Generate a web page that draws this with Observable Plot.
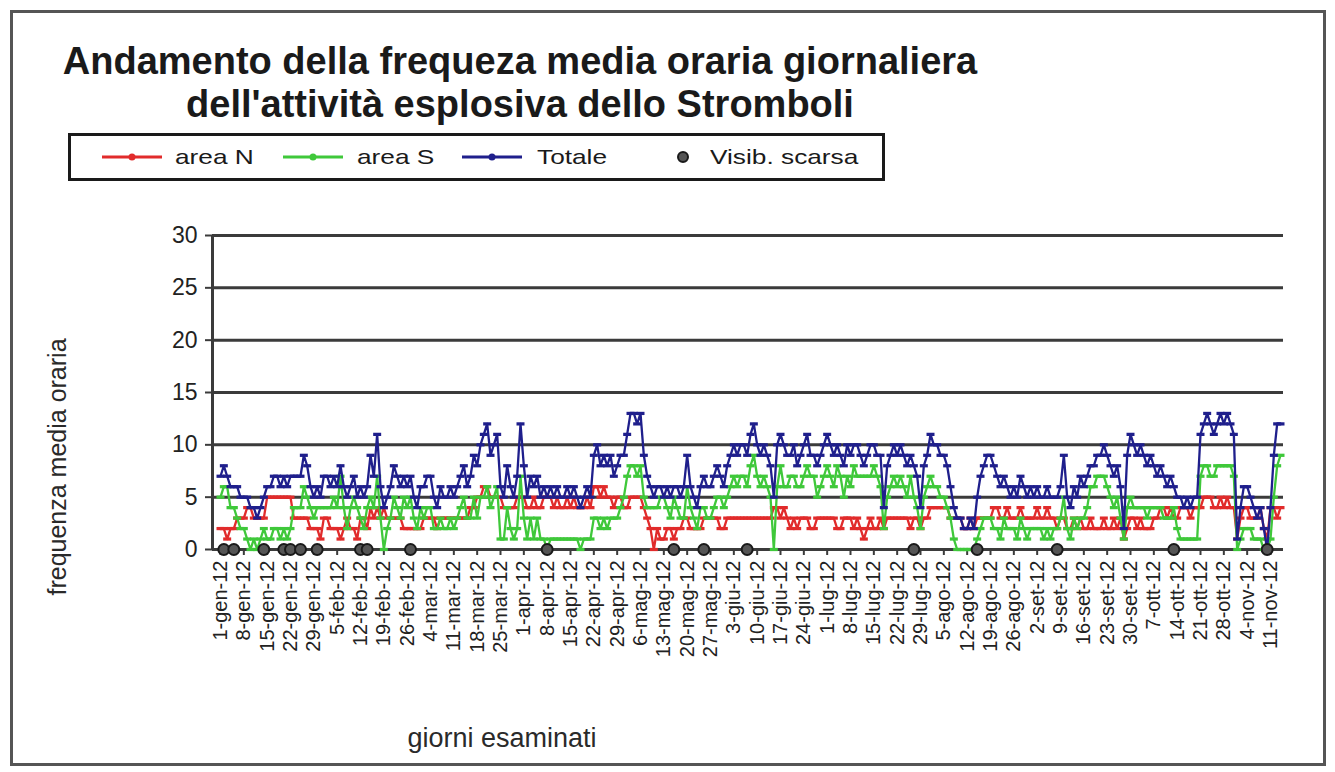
<!DOCTYPE html>
<html lang="it"><head><meta charset="utf-8">
<script src="https://cdn.jsdelivr.net/npm/d3@7"></script>
<script src="https://cdn.jsdelivr.net/npm/@observablehq/plot@0.6"></script>
<style>
html,body{margin:0;padding:0;background:#fff;}
#page{position:relative;width:1335px;height:772px;overflow:hidden;font-family:"Liberation Sans",Arial,Helvetica,sans-serif;color:#1a1a1a;}
#frame{position:absolute;left:10px;top:10px;width:1310px;height:750px;border:3px solid #555;}
.title{position:absolute;left:0;width:1040px;text-align:center;font-weight:bold;font-size:38px;line-height:1;white-space:nowrap;}
#title1{top:42px}
#title2{top:85px}
#legend{position:absolute;left:68px;top:133px;width:817px;height:48px;box-sizing:border-box;border:3px solid #1a1a1a;}
.sw{position:absolute;top:12px;}
.lt{position:absolute;top:0;line-height:42px;font-size:21px;white-space:nowrap;transform:scaleX(1.25);transform-origin:0 50%;}
#ytitle{position:absolute;left:57px;top:467px;transform:translate(-50%,-50%) rotate(-90deg);font-size:25px;white-space:nowrap;color:#2a2a2a;}
#xtitle{position:absolute;left:502px;top:738px;transform:translate(-50%,-50%);font-size:27px;white-space:nowrap;color:#2a2a2a;}
#chart{position:absolute;left:0;top:200px;}
#chart svg{overflow:visible;}
</style></head>
<body>
<div id="page">
  <div id="frame"></div>
  <div class="title" id="title1">Andamento della frequeza media oraria giornaliera</div>
  <div class="title" id="title2">dell'attività esplosiva dello Stromboli</div>
  <div id="legend"></div>
  <div id="ytitle">frequenza media oraria</div>
  <div id="xtitle">giorni esaminati</div>
  <div id="chart"></div>
</div>
<script>
// ---- data ----
const xTickLabels = ["1-gen-12","8-gen-12","15-gen-12","22-gen-12","29-gen-12","5-feb-12","12-feb-12","19-feb-12","26-feb-12",
  "4-mar-12","11-mar-12","18-mar-12","25-mar-12","1-apr-12","8-apr-12","15-apr-12","22-apr-12","29-apr-12",
  "6-mag-12","13-mag-12","20-mag-12","27-mag-12","3-giu-12","10-giu-12","17-giu-12","24-giu-12",
  "1-lug-12","8-lug-12","15-lug-12","22-lug-12","29-lug-12","5-ago-12","12-ago-12","19-ago-12","26-ago-12",
  "2-set-12","9-set-12","16-set-12","23-set-12","30-set-12","7-ott-12","14-ott-12","21-ott-12","28-ott-12",
  "4-nov-12","11-nov-12"];
const yTicks = [0,5,10,15,20,25,30];

// daily values from 1-gen-12, one row per week
const areaN = [
  2,2,1,2,2,3,3, 3,4,4,3,3,3,3, 5,5,5,5,5,5,5, 5,3,3,3,3,3,2, 2,2,1,3,3,2,2,
  2,1,2,3,2,2,1, 3,3,2,4,3,4,3, 4,3,3,3,3,3,2, 2,2,2,2,2,3,3, 3,3,2,3,3,3,3,
  3,3,3,3,3,4,4, 5,5,6,6,5,5,5, 5,4,4,4,4,5,5, 5,4,4,5,4,4,5, 5,5,4,5,4,4,5,
  4,5,4,4,4,5,4, 6,6,5,6,5,5,4, 5,5,4,4,5,5,5, 5,4,3,2,0,2,1, 1,2,2,1,2,2,3,
  3,2,2,2,2,3,3, 3,3,3,2,2,3,3, 3,3,3,3,3,3,3, 3,3,3,3,3,4,4, 3,4,3,2,3,2,3,
  3,3,2,2,3,3,3, 3,3,3,2,2,3,3, 3,2,3,2,1,2,3, 2,2,3,2,3,3,3, 3,3,3,3,2,3,3,
  2,3,3,4,4,4,4, 4,4,3,3,3,3,2, 2,3,2,3,3,3,3, 3,4,4,3,3,4,3, 3,3,4,3,3,3,3,
  4,3,3,4,3,3,2, 3,3,2,2,3,2,3, 2,2,3,2,2,2,3, 2,2,3,2,3,1,2, 3,3,2,3,2,2,2,
  3,3,4,4,3,4,3, 3,4,4,4,3,4,4, 4,5,5,5,4,4,5, 4,5,4,4,1,3,4, 4,3,3,3,4,2,1,
  4,4,3,4
];
const areaS = [
  5,6,6,4,4,3,2, 2,1,0,1,0,1,2, 1,1,2,2,1,2,1, 2,4,4,4,6,5,4, 3,4,4,4,4,4,5,
  4,7,4,2,4,5,4, 3,2,4,5,4,7,3, 0,2,3,5,4,3,5, 4,5,3,2,4,3,4, 4,2,2,3,2,2,3,
  2,3,4,5,3,3,5, 3,5,5,6,4,5,6, 1,1,4,2,1,2,7, 3,1,3,1,3,1,1, 0,1,1,1,1,1,1,
  1,1,1,0,1,1,1, 3,3,2,3,2,3,3, 3,4,5,7,8,8,7, 8,5,4,4,4,4,5, 5,4,3,5,4,3,3,
  6,4,3,2,4,4,3, 3,4,5,5,4,5,6, 7,6,7,7,6,8,9, 7,6,7,6,5,0,6, 8,6,6,7,7,6,6,
  7,8,7,7,5,6,7, 8,7,6,8,7,5,7, 6,8,7,7,7,7,7, 8,7,6,2,5,6,7, 6,7,6,5,7,5,4,
  2,5,6,7,6,6,5, 5,4,3,1,0,0,0, 0,0,0,1,2,3,3, 3,2,2,1,3,2,2, 2,1,3,2,1,2,2,
  2,2,1,2,1,2,2, 3,5,2,1,3,2,3, 3,4,6,6,7,7,7, 6,5,4,5,3,1,4, 5,4,4,4,4,3,4,
  4,4,4,3,3,3,4, 2,1,1,1,1,1,1, 7,8,8,7,7,8,8, 8,8,8,7,0,1,2, 2,2,1,1,1,0,0,
  1,5,8,9
];
const totale = [
  7,8,7,6,6,6,5, 5,5,4,4,3,4,5, 6,6,7,7,6,7,6, 7,7,7,7,9,8,6, 5,6,5,7,7,6,7,
  6,8,6,5,6,7,5, 6,5,6,9,7,11,6, 4,5,6,8,7,6,7, 6,7,5,4,6,6,7, 7,5,4,6,5,5,6,
  5,6,7,8,6,7,9, 8,10,11,12,9,10,11, 6,5,8,6,5,7,12, 8,5,7,6,7,5,6, 5,6,5,6,5,5,6,
  5,6,5,4,5,6,5, 9,10,8,9,8,9,7, 8,9,9,11,13,13,12, 13,9,7,6,5,6,6, 5,6,5,6,6,5,6,
  9,6,5,4,6,7,6, 6,7,8,7,6,8,9, 10,9,10,10,9,11,12, 10,9,10,9,8,5,10, 11,10,9,9,10,8,9,
  10,11,9,9,8,9,10, 11,10,9,10,9,8,10, 9,10,10,9,8,9,10, 10,9,9,4,8,9,10, 9,10,9,8,9,8,7,
  4,8,9,11,10,10,9, 9,8,6,4,3,3,2, 2,3,2,5,7,8,9, 9,8,7,6,7,6,5, 6,5,7,6,5,6,5,
  6,5,5,6,5,5,5, 6,9,5,4,6,5,7, 6,7,8,8,9,9,10, 9,8,7,8,6,2,9, 11,10,9,10,9,8,9,
  8,7,8,7,6,7,6, 5,5,4,5,4,5,5, 11,12,13,12,11,12,13, 12,13,12,11,1,4,6, 6,5,4,3,4,2,0,
  4,9,12,12
];
// days with poor visibility (plotted at 0)
const visibScarsa = ["2012-01-02","2012-01-05","2012-01-14","2012-01-20","2012-01-22","2012-01-25","2012-01-30",
  "2012-02-12","2012-02-14","2012-02-27","2012-04-08","2012-05-16","2012-05-25","2012-06-07",
  "2012-07-27","2012-08-15","2012-09-08","2012-10-13","2012-11-10"];

const seriesNames = ["area N","area S","Totale"];
const seriesColors = ["#e12b2b","#3fc83a","#1f1f8c"];
const visibColor = "#1a1a1a";

// ---- build ----
const DAY = 864e5;
const t0 = Date.UTC(2012,0,1);
const dateOf = i => new Date(Date.UTC(2012,0,1+i));
const tickDates = xTickLabels.map((_, i) => dateOf(7*i));
const labelByTime = new Map(tickDates.map((d, i) => [+d, xTickLabels[i]]));
const seriesValues = [areaN, areaS, totale];

const dash = {draw(ctx, size){ const r = Math.sqrt(size/Math.PI); ctx.rect(-r*1.6, -r*0.65, r*3.2, r*1.3); }};

const marks = [
  Plot.ruleY(yTicks, {stroke:"#3b3b3b", strokeWidth:3}),
  Plot.ruleX([new Date(t0 - 2.4*DAY)], {stroke:"#3b3b3b", strokeWidth:3}),
  Plot.axisY({ticks: yTicks, tickSize: 7, tickPadding: 8, fontSize: 23, label: null, stroke:"#3b3b3b", strokeWidth: 2, fill:"#222"}),
  Plot.axisX({ticks: tickDates, tickFormat: d => labelByTime.get(+d), tickRotate: -90, tickSize: 6, tickPadding: 5,
    fontSize: 20, label: null, stroke:"#3b3b3b", strokeWidth: 2, fill:"#222"})
];
seriesValues.forEach((vals, k) => {
  marks.push(Plot.line(vals, {x: (d, i) => dateOf(i), y: d => d, stroke: seriesColors[k], strokeWidth: 2.3}));
  marks.push(Plot.dot(vals, {x: (d, i) => dateOf(i), y: d => d, symbol: dash, r: 2.5, fill: seriesColors[k], stroke: "none"}));
});
marks.push(Plot.dot(visibScarsa, {x: d => new Date(d + "T00:00:00Z"), y: () => 0, r: 5.5, fill: "#555", stroke: visibColor, strokeWidth: 2}));

const chart = Plot.plot({
  width: 1335, height: 520,
  marginLeft: 212, marginRight: 52, marginTop: 35, marginBottom: 171,
  x: {type: "utc", domain: [new Date(t0 - 2.4*DAY), new Date(t0 + 318.9*DAY)]},
  y: {domain: [0, 30]},
  style: {fontFamily: "'Liberation Sans', Arial, sans-serif", color: "#222", background: "transparent"},
  marks
});
document.getElementById("chart").appendChild(chart);

// ---- legend ----
const lg = document.getElementById("legend");
const swX = [31, 212, 391], txX = [104, 286, 466];
seriesNames.forEach((name, k) => {
  const c = seriesColors[k];
  lg.insertAdjacentHTML("beforeend",
    `<svg class="sw" style="left:${swX[k]}px" width="60" height="18"><line x1="0" x2="60" y1="9" y2="9" stroke="${c}" stroke-width="3"/><circle cx="30" cy="9" r="3.5" fill="${c}"/></svg>` +
    `<span class="lt" style="left:${txX[k]}px">${name}</span>`);
});
lg.insertAdjacentHTML("beforeend",
  `<svg class="sw" style="left:602px" width="20" height="18"><circle cx="10" cy="9" r="5" fill="#555" stroke="${visibColor}" stroke-width="2"/></svg>` +
  `<span class="lt" style="left:639px">Visib. scarsa</span>`);
</script>
</body></html>
